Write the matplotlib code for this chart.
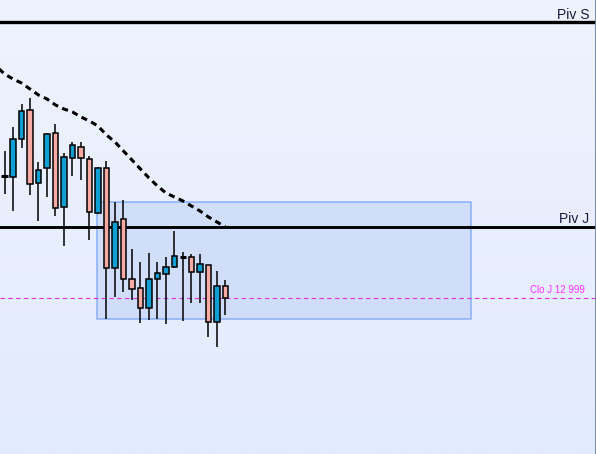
import numpy as np
import matplotlib.pyplot as plt
from matplotlib.patches import Rectangle
from matplotlib.colors import LinearSegmentedColormap
from matplotlib.transforms import blended_transform_factory

# daily candles (oldest first)
opens = [13121, 13120, 13158, 13187, 13114, 13129, 13164, 13090, 13139, 13150,
         13138, 13084, 13129, 13029, 13078, 13018, 13009, 12989, 13018, 13023,
         13030, 13040, 13040, 13025, 13032, 12975, 13011]
highs = [13146, 13170, 13193, 13199, 13135, 13164, 13173, 13144, 13155, 13155,
         13141, 13130, 13136, 13095, 13097, 13048, 13035, 13044, 13035, 13040,
         13066, 13045, 13043, 13043, 13032, 13026, 13017]
lows = [13103, 13086, 13149, 13102, 13076, 13100, 13081, 13051, 13121, 13117,
        13057, 13083, 12978, 13000, 13005, 12997, 12974, 12977, 12978, 12973,
        13029, 12976, 12994, 12994, 12960, 12950, 12982]
closes = [13121, 13158, 13186, 13113, 13127, 13163, 13089, 13140, 13152, 13139,
          13085, 13129, 13029, 13075, 13018, 13008, 12989, 13018, 13024, 13030,
          13041, 13040, 13025, 13033, 12975, 13011, 12999]

# moving average, starts one bar before the first visible candle
ma_vals = [13231, 13223, 13218, 13214, 13208, 13202, 13198, 13192, 13188, 13185,
           13180, 13176, 13171, 13162, 13155, 13146, 13137, 13128, 13119, 13111,
           13104, 13100, 13096, 13091, 13086, 13080, 13075, 13070]

piv_s = 13275
piv_j = 13070
clo_j = 12999
zone_start, zone_len = 10.9, 44
zone_low, zone_high = 12978, 13095

blue = '#109fd3'
pink = '#f8aaa5'

fig = plt.figure(figsize=(5.96, 4.54), dpi=100)
ax = fig.add_axes([0, 0, 1, 1])
ax.set_xlim(-0.53, 69.6)
ax.set_ylim(12843, 13297)

# background gradient
grad = np.linspace(0, 1, 256).reshape(-1, 1)
cmap = LinearSegmentedColormap.from_list('bg', ['#eff3fe', '#e2eafd'])
ax.imshow(grad, aspect='auto', cmap=cmap, extent=[-0.53, 69.6, 12843, 13297],
          origin='upper', zorder=0)

# range rectangle
ax.add_patch(Rectangle((zone_start, zone_low), zone_len, zone_high - zone_low,
                       facecolor='#c9d9fa', alpha=0.75, edgecolor='#6f9cf2',
                       linewidth=1.1, zorder=1))

ax.axhline(piv_s, color='black', lw=2.4, zorder=2)
ax.axhline(piv_j, color='black', lw=2.1, zorder=2)
ax.axhline(clo_j, color='#e030e0', lw=0.8, ls=(0, (4, 3)), zorder=2)

# moving average
ma_x = np.arange(-1, len(ma_vals) - 1)
ax.plot(ma_x, ma_vals, color='black', lw=2.2, ls=(0, (2.0, 1.5)), zorder=3)

# candles
for i in range(len(opens)):
    o, h, l, c = opens[i], highs[i], lows[i], closes[i]
    ax.vlines(i, l, h, color='black', lw=1.1, zorder=4)
    if o == c:
        ax.hlines(o, i - 0.38, i + 0.38, color='black', lw=2.2, zorder=5)
    else:
        col = blue if c > o else pink
        ax.bar(i, abs(c - o), bottom=min(o, c), width=0.6, color=col,
               edgecolor='black', linewidth=1.1, zorder=5)

tr = blended_transform_factory(ax.transAxes, ax.transData)
ax.text(0.989, piv_s + 3, 'Piv S', transform=tr, ha='right', va='baseline',
        fontsize=10, family='Liberation Sans', color='#1a1a3a')
ax.text(0.989, piv_j + 4, 'Piv J', transform=tr, ha='right', va='baseline',
        fontsize=10, family='Liberation Sans', color='#1a1a3a')
ax.text(0.982, clo_j + 5, 'Clo J 12 999', transform=tr, ha='right', va='baseline',
        fontsize=7, family='Liberation Sans', color='#ff30ff')

ax.axis('off')
fig.add_artist(plt.Line2D([595.5 / 596] * 2, [0, 1], color='#6d8199', lw=1.3))

fig.savefig('out.png', dpi=100)
